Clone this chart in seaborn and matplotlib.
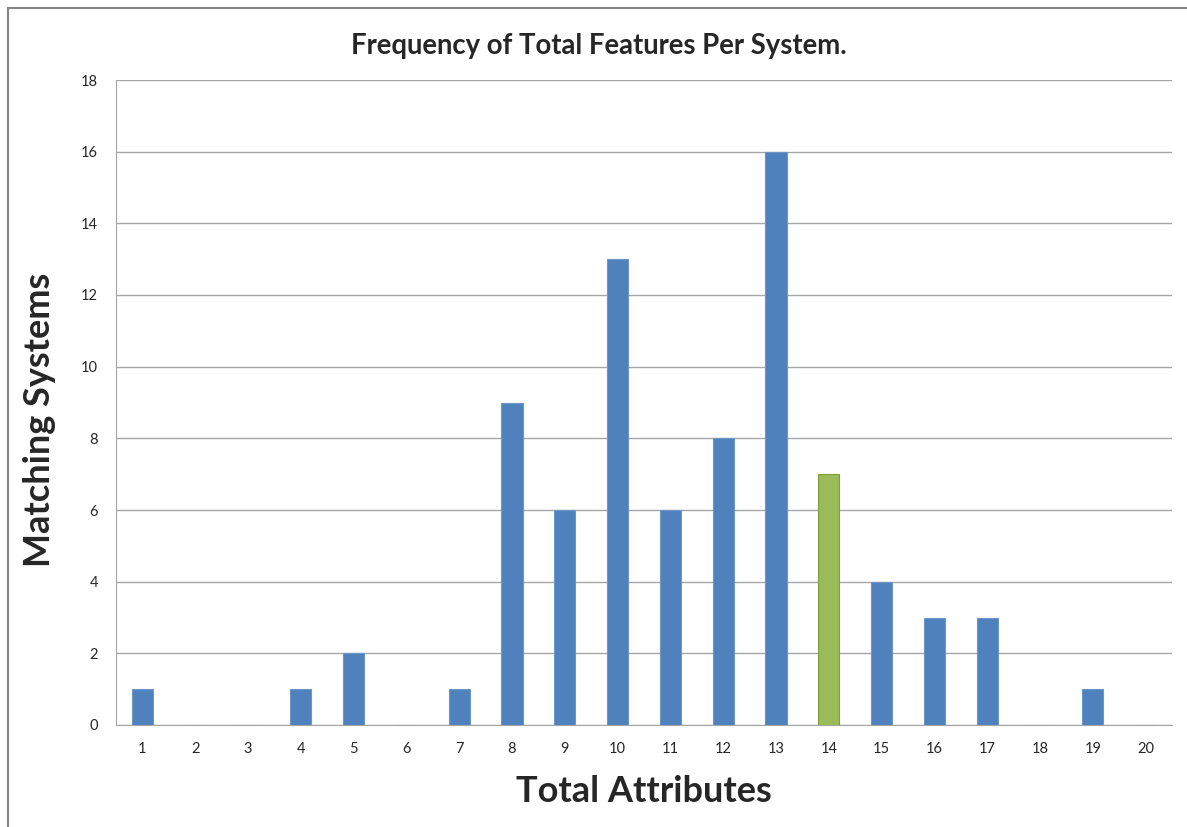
import numpy as np
import pandas as pd
import seaborn as sns
from matplotlib import pyplot as plt
from matplotlib.patches import Rectangle

# counts
attributes = [str(i) for i in range(1, 21)]
systems = [1, 0, 0, 1, 2, 0, 1, 9, 6, 13, 6, 8, 16, 7, 4, 3, 3, 0, 1, 0]
highlight = '14'

blue, green = '#4f81bd', '#9bbb59'

sns.set_style('white')
plt.rcParams['font.family'] = ['Lato', 'DejaVu Sans']

df = pd.DataFrame({'attr': attributes, 'count': systems})
colors = {a: (green if a == highlight else blue) for a in attributes}

fig = plt.figure(figsize=(11.87, 8.27), dpi=100)
ax = fig.add_axes([116 / 1187, 1 - 725 / 827, (1172 - 116) / 1187, (725 - 80) / 827])

sns.barplot(data=df, x='attr', y='count', hue='attr', palette=colors,
            legend=False, width=0.4, saturation=1, ax=ax, zorder=3)
for bar, a in zip(ax.patches, attributes):
    bar.set_edgecolor('#7f9f3f' if a == highlight else '#6d96c8')
    bar.set_linewidth(0.8)

ax.set_ylim(0, 18)
ax.set_xlim(-0.5, 19.5)
ax.set_yticks(range(0, 19, 2))
ax.yaxis.grid(True, color='#a6a6a6', linewidth=1, zorder=0)
ax.tick_params(axis='y', length=5, color='#a6a6a6', labelsize=10.5, pad=8)
ax.tick_params(axis='x', which='major', length=0, labelsize=10.5, pad=12)
ax.set_xticks(np.arange(-0.5, 20, 1), minor=True)
ax.tick_params(axis='x', which='minor', length=6, color='#a6a6a6')
for side in ['top', 'right']:
    ax.spines[side].set_visible(False)
for side in ['left', 'bottom']:
    ax.spines[side].set_color('#a6a6a6')

# title sits over the whole chart, not just the plot area
ax.set_title('Frequency of Total Features Per System.', fontsize=19.8,
             fontweight='bold', pad=19, x=0.457)
ax.set_xlabel('Total Attributes', fontsize=26, fontweight='bold', labelpad=14)
ax.set_ylabel('Matching Systems', fontsize=26, fontweight='bold', labelpad=18)
ax.yaxis.label.set_y(0.473)

# outer chart frame like the spreadsheet export
fig.patches.append(Rectangle((8 / 1187, -0.1), 1.2, 1 - 8 / 827 + 0.1,
                             transform=fig.transFigure, fill=False,
                             edgecolor='#868686', linewidth=1.5))

fig.savefig('out.png', dpi=100)
